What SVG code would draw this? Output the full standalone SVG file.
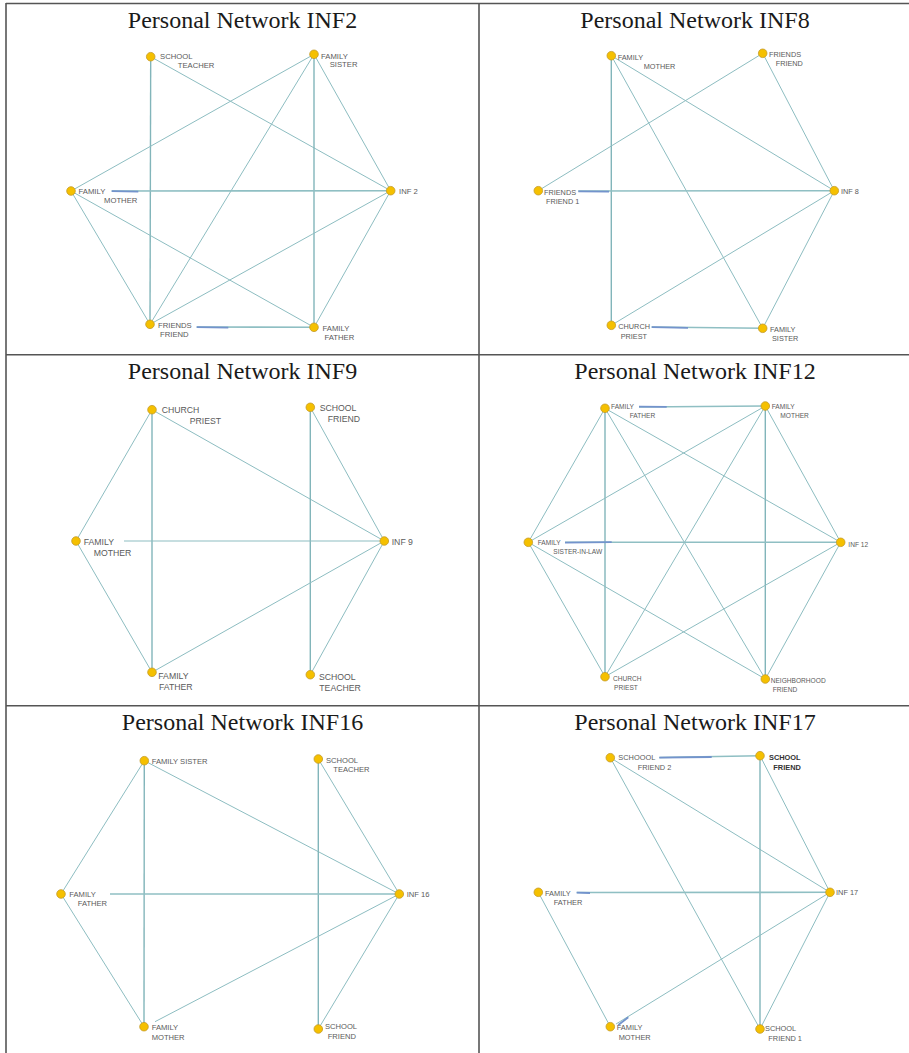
<svg xmlns="http://www.w3.org/2000/svg" width="909" height="1053" viewBox="0 0 909 1053">
<style>
.grid{stroke:#555;stroke-width:1.6;fill:none}
.title{font-family:"Liberation Serif","Times New Roman",serif;font-size:24px;fill:#1a1a1a;text-anchor:middle}
.edge{stroke:#8dbdc1;stroke-width:1;fill:none}
.vedge{stroke:#82b5ba;stroke-width:1.4;fill:none}
.hedge{stroke:#8fbfc3;stroke-width:1.6;fill:none}
.hl{stroke:#7393cc;stroke-width:1.8;fill:none}
.node circle{fill:#f5c000;stroke:#c49a2a;stroke-width:0.8}
.lbl{font-family:"Liberation Sans",Arial,sans-serif;fill:#5a5a5a}
.p1 .lbl{font-size:7.7px}
.p2 .lbl{font-size:7.3px}
.p3 .lbl{font-size:8.7px}
.p4 .lbl{font-size:6.6px}
.p5 .lbl{font-size:7.6px}
.p6 .lbl{font-size:7.4px}
.dark{fill:#333;font-weight:bold}
</style>
<rect width="909" height="1053" fill="#fff"/>
<g id="table">
<line class="grid" x1="6" y1="3.5" x2="909" y2="3.5"/>
<line class="grid" x1="6" y1="3" x2="6" y2="1053"/>
<line class="grid" x1="479" y1="3" x2="479" y2="1053"/>
<line class="grid" x1="6" y1="354.7" x2="909" y2="354.7"/>
<line class="grid" x1="6" y1="705.7" x2="909" y2="705.7"/>
</g>
<g id="titles">
<text class="title" x="242.5" y="27.7">Personal Network INF2</text>
<text class="title" x="695" y="27.7">Personal Network INF8</text>
<text class="title" x="242.5" y="379">Personal Network INF9</text>
<text class="title" x="695" y="379">Personal Network INF12</text>
<text class="title" x="242.5" y="730">Personal Network INF16</text>
<text class="title" x="695" y="730">Personal Network INF17</text>
</g>

<g id="panel-inf2" class="p1">
<g id="connectors-inf2">
<line class="vedge" x1="150.7" y1="56.7" x2="150" y2="324.3"/>
<line class="edge" x1="150.7" y1="56.7" x2="390.7" y2="190.7"/>
<line class="edge" x1="314" y1="54.3" x2="71" y2="191"/>
<line class="edge" x1="314" y1="54.3" x2="150" y2="324.3"/>
<line class="vedge" x1="314" y1="54.3" x2="314" y2="327.3"/>
<line class="edge" x1="314" y1="54.3" x2="390.7" y2="190.7"/>
<line class="hedge" x1="111.7" y1="191" x2="390.7" y2="190.7"/>
<line class="edge" x1="71" y1="191" x2="150" y2="324.3"/>
<line class="edge" x1="71" y1="191" x2="314" y2="327.3"/>
<line class="edge" x1="390.7" y1="190.7" x2="150" y2="324.3"/>
<line class="edge" x1="390.7" y1="190.7" x2="314" y2="327.3"/>
<line class="hedge" x1="196.7" y1="327" x2="314" y2="327.3"/>
<line class="hl" x1="111.7" y1="191.2" x2="138.3" y2="191.6"/>
<line class="hl" x1="196.7" y1="327.2" x2="228.3" y2="327.6"/>
</g>
<g id="inf2-school-teacher" class="node"><circle cx="150.7" cy="56.7" r="4.3"/><text class="lbl" x="160" y="59">SCHOOL</text><text class="lbl" x="177.7" y="67.5">TEACHER</text></g>
<g id="inf2-family-sister" class="node"><circle cx="314" cy="54.3" r="4.3"/><text class="lbl" x="321" y="58.5">FAMILY</text><text class="lbl" x="329.7" y="67">SISTER</text></g>
<g id="inf2-family-mother" class="node"><circle cx="71" cy="191" r="4.3"/><text class="lbl" x="78.5" y="194">FAMILY</text><text class="lbl" x="104" y="202.5">MOTHER</text></g>
<g id="inf2-inf2" class="node"><circle cx="390.7" cy="190.7" r="4.3"/><text class="lbl" x="399" y="194">INF 2</text></g>
<g id="inf2-friends-friend" class="node"><circle cx="150" cy="324.3" r="4.3"/><text class="lbl" x="158" y="328">FRIENDS</text><text class="lbl" x="160" y="336.5">FRIEND</text></g>
<g id="inf2-family-father" class="node"><circle cx="314" cy="327.3" r="4.3"/><text class="lbl" x="322.5" y="331">FAMILY</text><text class="lbl" x="324.5" y="340">FATHER</text></g>
</g>

<g id="panel-inf8" class="p2">
<g id="connectors-inf8">
<line class="vedge" x1="611.3" y1="55.7" x2="611.3" y2="325.3"/>
<line class="edge" x1="611.3" y1="55.7" x2="834.3" y2="190.7"/>
<line class="edge" x1="611.3" y1="55.7" x2="762.7" y2="328.3"/>
<line class="edge" x1="762.7" y1="53.3" x2="538.3" y2="190.7"/>
<line class="edge" x1="762.7" y1="53.3" x2="834.3" y2="190.7"/>
<line class="hedge" x1="578.3" y1="191" x2="834.3" y2="190.7"/>
<line class="edge" x1="834.3" y1="190.7" x2="611.3" y2="325.3"/>
<line class="edge" x1="834.3" y1="190.7" x2="762.7" y2="328.3"/>
<line class="hedge" x1="651.7" y1="327" x2="762.7" y2="328.3"/>
<line class="hl" x1="578.3" y1="191.3" x2="609" y2="191.6"/>
<line class="hl" x1="651.7" y1="327.2" x2="688" y2="327.8"/>
</g>
<g id="inf8-family-mother" class="node"><circle cx="611.3" cy="55.7" r="4.3"/><text class="lbl" x="617.7" y="59.5">FAMILY</text><text class="lbl" x="643.7" y="68.5">MOTHER</text></g>
<g id="inf8-friends-friend" class="node"><circle cx="762.7" cy="53.3" r="4.3"/><text class="lbl" x="769" y="56.5">FRIENDS</text><text class="lbl" x="775.7" y="66">FRIEND</text></g>
<g id="inf8-friends-friend1" class="node"><circle cx="538.3" cy="190.7" r="4.3"/><text class="lbl" x="544" y="194.5">FRIENDS</text><text class="lbl" x="546" y="203.5">FRIEND 1</text></g>
<g id="inf8-inf8" class="node"><circle cx="834.3" cy="190.7" r="4.3"/><text class="lbl" x="841" y="194">INF 8</text></g>
<g id="inf8-church-priest" class="node"><circle cx="611.3" cy="325.3" r="4.3"/><text class="lbl" x="618.3" y="329">CHURCH</text><text class="lbl" x="620.7" y="338.5">PRIEST</text></g>
<g id="inf8-family-sister" class="node"><circle cx="762.7" cy="328.3" r="4.3"/><text class="lbl" x="770" y="331.5">FAMILY</text><text class="lbl" x="772" y="341">SISTER</text></g>
</g>

<g id="panel-inf9" class="p3">
<g id="connectors-inf9">
<line class="edge" x1="152" y1="409.7" x2="76" y2="541"/>
<line class="vedge" x1="152" y1="409.7" x2="152" y2="672.3"/>
<line class="edge" x1="152" y1="409.7" x2="384.3" y2="541"/>
<line class="vedge" x1="310.3" y1="407.3" x2="310.3" y2="674.7"/>
<line class="edge" x1="310.3" y1="407.3" x2="384.3" y2="541"/>
<line class="edge" x1="124" y1="541" x2="384.3" y2="541"/>
<line class="edge" x1="76" y1="541" x2="152" y2="672.3"/>
<line class="edge" x1="384.3" y1="541" x2="152" y2="672.3"/>
<line class="edge" x1="384.3" y1="541" x2="310.3" y2="674.7"/>
</g>
<g id="inf9-church-priest" class="node"><circle cx="152" cy="409.7" r="4.3"/><text class="lbl" x="161.7" y="412.5">CHURCH</text><text class="lbl" x="189.7" y="423.5">PRIEST</text></g>
<g id="inf9-school-friend" class="node"><circle cx="310.3" cy="407.3" r="4.3"/><text class="lbl" x="319.7" y="410.5">SCHOOL</text><text class="lbl" x="327.7" y="421.7">FRIEND</text></g>
<g id="inf9-family-mother" class="node"><circle cx="76" cy="541" r="4.3"/><text class="lbl" x="83.7" y="545">FAMILY</text><text class="lbl" x="93.7" y="556">MOTHER</text></g>
<g id="inf9-inf9" class="node"><circle cx="384.3" cy="541" r="4.3"/><text class="lbl" x="391.7" y="544.5">INF 9</text></g>
<g id="inf9-family-father" class="node"><circle cx="152" cy="672.3" r="4.3"/><text class="lbl" x="158.3" y="678.5">FAMILY</text><text class="lbl" x="159" y="689.5">FATHER</text></g>
<g id="inf9-school-teacher" class="node"><circle cx="310.3" cy="674.7" r="4.3"/><text class="lbl" x="319" y="679.5">SCHOOL</text><text class="lbl" x="319.3" y="690.5">TEACHER</text></g>
</g>

<g id="panel-inf12" class="p4">
<g id="connectors-inf12">
<line class="hedge" x1="639" y1="407" x2="765.3" y2="406"/>
<line class="edge" x1="605" y1="408.3" x2="528.3" y2="542.3"/>
<line class="vedge" x1="605" y1="408.3" x2="605" y2="676.7"/>
<line class="edge" x1="605" y1="408.3" x2="840.7" y2="542.3"/>
<line class="edge" x1="605" y1="408.3" x2="765.3" y2="679"/>
<line class="edge" x1="765.3" y1="406" x2="528.3" y2="542.3"/>
<line class="edge" x1="765.3" y1="406" x2="605" y2="676.7"/>
<line class="vedge" x1="765.3" y1="406" x2="765.3" y2="679"/>
<line class="edge" x1="765.3" y1="406" x2="840.7" y2="542.3"/>
<line class="hedge" x1="565" y1="542.3" x2="840.7" y2="542.3"/>
<line class="edge" x1="528.3" y1="542.3" x2="605" y2="676.7"/>
<line class="edge" x1="528.3" y1="542.3" x2="765.3" y2="679"/>
<line class="edge" x1="840.7" y1="542.3" x2="605" y2="676.7"/>
<line class="edge" x1="840.7" y1="542.3" x2="765.3" y2="679"/>
<line class="hl" x1="639" y1="406.6" x2="666.7" y2="406.8"/>
<line class="hl" x1="565" y1="542.6" x2="611.7" y2="542.2"/>
</g>
<g id="inf12-family-father" class="node"><circle cx="605" cy="408.3" r="4.3"/><text class="lbl" x="611" y="408.5">FAMILY</text><text class="lbl" x="629.7" y="417.5">FATHER</text></g>
<g id="inf12-family-mother" class="node"><circle cx="765.3" cy="406" r="4.3"/><text class="lbl" x="771.7" y="409">FAMILY</text><text class="lbl" x="780.3" y="418">MOTHER</text></g>
<g id="inf12-family-sister-in-law" class="node"><circle cx="528.3" cy="542.3" r="4.3"/><text class="lbl" x="537.7" y="545">FAMILY</text><text class="lbl" x="553.3" y="553.5">SISTER-IN-LAW</text></g>
<g id="inf12-inf12" class="node"><circle cx="840.7" cy="542.3" r="4.3"/><text class="lbl" x="848.3" y="547">INF 12</text></g>
<g id="inf12-church-priest" class="node"><circle cx="605" cy="676.7" r="4.3"/><text class="lbl" x="613" y="680.5">CHURCH</text><text class="lbl" x="614" y="689.5">PRIEST</text></g>
<g id="inf12-neighborhood-friend" class="node"><circle cx="765.3" cy="679" r="4.3"/><text class="lbl" x="770.7" y="682.5">NEIGHBORHOOD</text><text class="lbl" x="772.7" y="691.5">FRIEND</text></g>
</g>

<g id="panel-inf16" class="p5">
<g id="connectors-inf16">
<line class="edge" x1="144.3" y1="760.7" x2="61" y2="894"/>
<line class="vedge" x1="144.3" y1="760.7" x2="144" y2="1026.7"/>
<line class="edge" x1="144.3" y1="760.7" x2="399.3" y2="894"/>
<line class="vedge" x1="318.3" y1="759" x2="318.3" y2="1029"/>
<line class="edge" x1="318.3" y1="759" x2="399.3" y2="894"/>
<line class="hedge" x1="110" y1="894" x2="399.3" y2="894"/>
<line class="edge" x1="61" y1="894" x2="144" y2="1026.7"/>
<line class="edge" x1="399.3" y1="894" x2="155" y2="1021.7"/>
<line class="edge" x1="399.3" y1="894" x2="318.3" y2="1029"/>
</g>
<g id="inf16-family-sister" class="node"><circle cx="144.3" cy="760.7" r="4.3"/><text class="lbl" x="151.7" y="763.5">FAMILY SISTER</text></g>
<g id="inf16-school-teacher" class="node"><circle cx="318.3" cy="759" r="4.3"/><text class="lbl" x="326" y="763">SCHOOL</text><text class="lbl" x="333.3" y="772">TEACHER</text></g>
<g id="inf16-family-father" class="node"><circle cx="61" cy="894" r="4.3"/><text class="lbl" x="69.3" y="897">FAMILY</text><text class="lbl" x="77.7" y="906">FATHER</text></g>
<g id="inf16-inf16" class="node"><circle cx="399.3" cy="894" r="4.3"/><text class="lbl" x="406.7" y="897">INF 16</text></g>
<g id="inf16-family-mother" class="node"><circle cx="144" cy="1026.7" r="4.3"/><text class="lbl" x="151.7" y="1030">FAMILY</text><text class="lbl" x="151.7" y="1039.5">MOTHER</text></g>
<g id="inf16-school-friend" class="node"><circle cx="318.3" cy="1029" r="4.3"/><text class="lbl" x="325" y="1028.5">SCHOOL</text><text class="lbl" x="327.7" y="1038.5">FRIEND</text></g>
</g>

<g id="panel-inf17" class="p6">
<g id="connectors-inf17">
<line class="hedge" x1="659.3" y1="757.5" x2="760" y2="755.7"/>
<line class="edge" x1="610.3" y1="757.7" x2="830" y2="892.3"/>
<line class="edge" x1="610.3" y1="757.7" x2="760" y2="1029"/>
<line class="vedge" x1="760" y1="755.7" x2="760" y2="1029"/>
<line class="edge" x1="760" y1="755.7" x2="830" y2="892.3"/>
<line class="hedge" x1="576.7" y1="892.5" x2="830" y2="892.3"/>
<line class="edge" x1="538.3" y1="892.3" x2="610.3" y2="1026.7"/>
<line class="edge" x1="830" y1="892.3" x2="616" y2="1024"/>
<line class="edge" x1="830" y1="892.3" x2="760" y2="1029"/>
<line class="hl" x1="659.3" y1="757.6" x2="711.7" y2="757"/>
<line class="hl" x1="576.7" y1="892.6" x2="590" y2="893"/>
<line class="hl" x1="618.3" y1="1025" x2="628.3" y2="1017.3"/>
</g>
<g id="inf17-schoool-friend2" class="node"><circle cx="610.3" cy="757.7" r="4.3"/><text class="lbl" x="618.3" y="760">SCHOOOL</text><text class="lbl" x="637.7" y="770">FRIEND 2</text></g>
<g id="inf17-school-friend" class="node"><circle cx="760" cy="755.7" r="4.3"/><text class="lbl dark" x="769" y="759.5">SCHOOL</text><text class="lbl dark" x="773.3" y="769.5">FRIEND</text></g>
<g id="inf17-family-father" class="node"><circle cx="538.3" cy="892.3" r="4.3"/><text class="lbl" x="545" y="895.5">FAMILY</text><text class="lbl" x="553.7" y="905">FATHER</text></g>
<g id="inf17-inf17" class="node"><circle cx="830" cy="892.3" r="4.3"/><text class="lbl" x="836" y="895">INF 17</text></g>
<g id="inf17-family-mother" class="node"><circle cx="610.3" cy="1026.7" r="4.3"/><text class="lbl" x="616.7" y="1030">FAMILY</text><text class="lbl" x="618.7" y="1040">MOTHER</text></g>
<g id="inf17-school-friend1" class="node"><circle cx="760" cy="1029" r="4.3"/><text class="lbl" x="765" y="1031">SCHOOL</text><text class="lbl" x="768.3" y="1041">FRIEND 1</text></g>
</g>
</svg>
